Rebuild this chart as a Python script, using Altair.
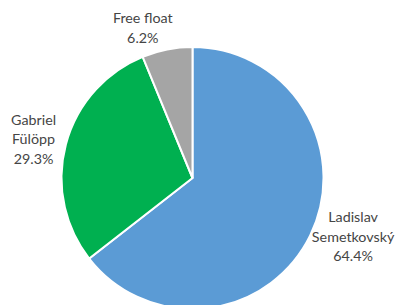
import altair as alt
import pandas as pd

names = ["Ladislav Semetkovský", "Gabriel Fülöpp", "Free float"]
label_lines = ["Ladislav\nSemetkovský\n64.4%", "Gabriel\nFülöpp\n29.3%", "Free float\n6.2%"]
shares = [64.4, 29.3, 6.2]
colors = ["#5B9BD5", "#00B050", "#A5A5A5"]

df = pd.DataFrame({"name": names, "label": label_lines, "share": shares, "idx": [0, 1, 2]})
df["mid"] = df["share"].cumsum() - df["share"] / 2

CX, CY, R = 184.5, 170, 131
theta_scale = alt.Scale(domain=[0, sum(shares)])

base = alt.Chart(df)

pie = base.mark_arc(radius=R, stroke="white", strokeWidth=2).encode(
    theta=alt.Theta("share:Q", stack=True, scale=theta_scale),
    color=alt.Color("name:N", scale=alt.Scale(domain=names, range=colors), legend=None),
    order=alt.Order("idx:Q"),
    x=alt.value(CX),
    y=alt.value(CY),
)

label_specs = [
    ("Ladislav Semetkovský", 175, -0.108, -4, -19),
    ("Gabriel Fülöpp", 164, -0.01, 0, -17),
    ("Free float", 158, -0.105, -3, -8),
]
layers = [pie]
for nm, rad, toff, dx, dy in label_specs:
    layers.append(
        base.transform_filter(alt.datum.name == nm).mark_text(
            radius=rad, thetaOffset=toff, font="Lato", fontSize=14.3, color="#454545",
            lineBreak="\n", lineHeight=19.5, align="center", baseline="middle",
            dx=dx, dy=dy,
        ).encode(
            theta=alt.Theta("mid:Q", stack=None, scale=theta_scale),
            text="label:N",
            x=alt.value(CX),
            y=alt.value(CY),
        )
    )

chart = alt.layer(*layers).properties(
    width=388, height=297, padding=0, autosize="none"
).configure_view(stroke=None)

chart.save("out.html", embed_options={"renderer": "svg", "actions": False})
